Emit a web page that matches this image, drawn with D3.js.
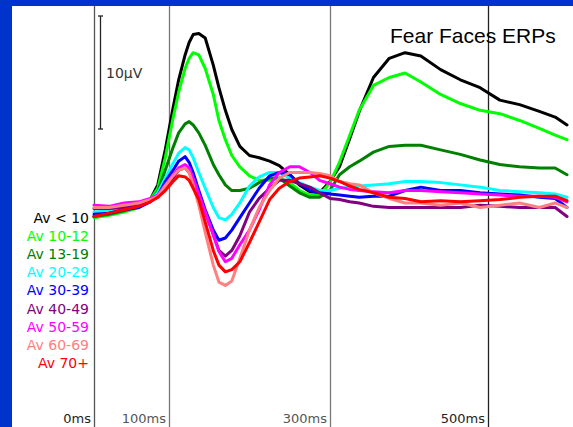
<!DOCTYPE html>
<html>
<head>
<meta charset="utf-8">
<script src="https://cdn.jsdelivr.net/npm/d3@7"></script>
<style>
  html, body { margin: 0; padding: 0; background: #fff; }
  svg { display: block; }
</style>
</head>
<body>
<script>
// Fear faces ERPs, amplitude in microvolts by age group

var times = [0, 20, 40, 60, 75, 85, 95, 105, 112, 120, 125, 130, 137, 145, 155, 162, 170, 178, 188, 200,
  212, 225, 237, 250, 262, 275, 287, 300, 312, 325, 337, 355, 375, 395, 415, 440, 465, 490, 515, 540, 565, 585, 600];

var groups = ["Av < 10", "Av 10-12", "Av 13-19", "Av 20-29", "Av 30-39", "Av 40-49", "Av 50-59", "Av 60-69", "Av 70+"];
var colors = ["#000000", "#00ff00", "#008000", "#00ffff", "#0000ff", "#800080", "#ff00ff", "#ff8080", "#ff0000"];

var avUnder10 = [-0.4, -0.2, 0.4, 0.7, 1.1, 2.4, 5.5, 9.2, 11.7, 13.9, 15.0, 15.7, 15.8, 15.4, 13.0, 11.0, 9.0, 7.3, 5.8, 5.0,
  4.8, 4.5, 4.1, 3.3, 2.4, 1.8, 1.7, 2.7, 4.0, 6.5, 8.9, 11.9, 13.6, 14.1, 13.8, 12.6, 11.7, 11.0, 9.9, 9.5, 8.9, 8.4, 7.7];
var av10to12 = [-0.5, -0.3, 0, 0.4, 1.1, 2.1, 4.8, 8.3, 10.6, 12.7, 13.6, 14.1, 13.9, 12.7, 10.4, 8.1, 6.4, 5.0, 4.0, 3.2,
  2.8, 2.8, 3.0, 2.6, 1.9, 1.5, 1.5, 2.6, 4.4, 6.8, 9.0, 11.2, 11.9, 12.3, 11.5, 10.4, 9.6, 9.0, 8.7, 8.1, 7.4, 6.8, 6.4];
var av13to19 = [-0.4, -0.2, 0.1, 0.5, 1.1, 1.8, 3.7, 5.7, 7.0, 7.8, 8.0, 7.7, 7.0, 5.9, 4.2, 3.3, 2.4, 1.9, 1.9, 2.1,
  2.6, 3.0, 3.0, 2.3, 1.7, 1.3, 1.3, 1.9, 3.3, 4.0, 4.5, 5.3, 5.8, 5.9, 5.9, 5.5, 5.1, 4.6, 4.2, 4.0, 3.9, 3.9, 3.3];
var av20to29 = [0, 0.1, 0.4, 0.6, 1.1, 1.7, 3.0, 4.3, 5.2, 5.7, 5.5, 4.8, 3.5, 2.1, 0.4, -0.5, -0.7, -0.2, 0.8, 2.3,
  3.1, 3.5, 3.5, 3.0, 2.6, 2.2, 1.9, 1.9, 2.1, 2.2, 2.3, 2.4, 2.5, 2.7, 2.7, 2.6, 2.4, 2.2, 1.9, 1.8, 1.7, 1.6, 1.3];
var av30to39 = [-0.2, -0.1, 0.2, 0.4, 0.9, 1.4, 2.7, 3.7, 4.5, 4.9, 4.4, 3.5, 1.9, 0.2, -1.6, -2.5, -2.3, -1.6, -0.5, 0.8,
  2.1, 3.2, 3.5, 3.3, 2.5, 1.9, 1.7, 1.6, 1.5, 1.4, 1.3, 1.4, 1.4, 1.9, 2.2, 1.9, 1.9, 1.7, 1.6, 1.5, 1.3, 1.2, 0.4];
var av40to49 = [0.3, 0.3, 0.4, 0.7, 1.0, 1.3, 2.1, 3.0, 3.7, 3.9, 3.5, 2.7, 1.4, 0, -2.0, -3.4, -3.9, -3.4, -2.1, 0,
  1.2, 2.1, 2.8, 2.8, 2.5, 2.2, 1.7, 1.2, 1.1, 0.9, 0.8, 0.5, 0.4, 0.4, 0.4, 0.4, 0.4, 0.6, 0.5, 0.4, 0.4, 0.4, -0.4];
var av50to59 = [0.6, 0.5, 0.8, 0.9, 1.2, 1.5, 2.4, 3.3, 3.9, 4.2, 3.9, 3.0, 1.6, 0, -2.0, -3.5, -4.4, -4.1, -2.9, -1.6,
  0.2, 2.4, 3.5, 4.0, 4.0, 3.5, 2.8, 2.5, 2.2, 2.0, 1.9, 1.8, 1.7, 1.9, 1.9, 1.8, 1.7, 1.6, 1.5, 1.4, 1.4, 1.3, 0.9];
var av60to69 = [0.4, 0.4, 0.6, 0.8, 1.1, 1.4, 2.3, 3.2, 3.7, 3.9, 3.5, 2.4, 0.6, -1.8, -4.7, -6.2, -6.5, -6.1, -4.1, -1.6,
  0.4, 1.9, 3.0, 3.5, 3.5, 3.5, 3.4, 3.2, 2.7, 2.5, 2.4, 1.7, 1.2, 0.8, 0.8, 0.6, 0.8, 0.4, 0.6, 0.8, 0.4, 0.8, 0.4];
var av70plus = [-0.4, -0.1, 0.2, 0.5, 0.9, 1.3, 1.9, 2.7, 3.2, 3.1, 2.8, 2.1, 1.1, -0.9, -3.4, -4.7, -5.3, -5.1, -4.4, -2.7,
  -0.9, 1.1, 2.1, 2.7, 3.0, 3.1, 3.2, 3.0, 2.7, 2.3, 2.0, 1.7, 1.3, 1.2, 0.9, 1.0, 0.9, 1.0, 1.1, 1.3, 1.4, 1.4, 1.0];

var series = [avUnder10, av10to12, av13to19, av20to29, av30to39, av40to49, av50to59, av60to69, av70plus];

var timeTicks = [0, 100, 300, 500];
var tickLabels = ["0ms", "100ms", "300ms", "500ms"];

var width = 573, height = 427;

var svg = d3.select(document.body).append("svg")
    .attr("width", width)
    .attr("height", height);

// blue frame
svg.append("rect").attr("width", width).attr("height", height).attr("fill", "#0033cc");
svg.append("rect").attr("x", 12).attr("y", 6).attr("width", width - 12).attr("height", height - 6).attr("fill", "#fff");

// time axis is not uniform in the original, so a polylinear scale
var x = d3.scaleLinear()
    .domain([0, 100, 300, 500, 600])
    .range([94, 169, 330, 488, 567]);

var y = d3.scaleLinear()
    .domain([0, 10])
    .range([212, 99]);

// vertical time markers
var gridColors = ["#555", "#777", "#777", "#222"];
svg.append("g")
    .selectAll("line")
    .data(timeTicks)
    .join("line")
    .attr("x1", (d) => Math.round(x(d)) + 0.5)
    .attr("x2", (d) => Math.round(x(d)) + 0.5)
    .attr("y1", 6)
    .attr("y2", height)
    .attr("stroke", (d, i) => gridColors[i])
    .attr("stroke-width", 1.3);

svg.append("g")
    .attr("font-family", "DejaVu Sans, sans-serif")
    .attr("font-size", 13)
    .attr("text-anchor", "end")
    .selectAll("text")
    .data(timeTicks)
    .join("text")
    .attr("x", (d) => Math.round(x(d)) - 3)
    .attr("y", 423)
    .attr("fill", (d, i) => (i == 0 || i == 3) ? "#222" : "#555")
    .text((d, i) => tickLabels[i]);

// 10 uV scale bar
var bar = svg.append("g").attr("stroke", "#222").attr("stroke-width", 1.3);
bar.append("line").attr("x1", 100.5).attr("x2", 100.5).attr("y1", y(10) - 83).attr("y2", y(10) + 30);
bar.append("line").attr("x1", 98).attr("x2", 103).attr("y1", y(10) - 83).attr("y2", y(10) - 83);
bar.append("line").attr("x1", 98).attr("x2", 103).attr("y1", y(10) + 30).attr("y2", y(10) + 30);
svg.append("text")
    .attr("x", 106)
    .attr("y", 78)
    .attr("font-family", "DejaVu Sans, sans-serif")
    .attr("font-size", 14)
    .attr("fill", "#333")
    .text("10\u00b5V");

// ERP curves
var line = d3.line()
    .x((d, i) => x(times[i]))
    .y((d) => y(d));

svg.append("g")
    .attr("fill", "none")
    .attr("stroke-width", 3)
    .attr("stroke-linejoin", "round")
    .attr("stroke-linecap", "round")
    .selectAll("path")
    .data(series)
    .join("path")
    .attr("stroke", (d, i) => colors[i])
    .attr("d", line);

// legend
svg.append("g")
    .attr("font-family", "DejaVu Sans, sans-serif")
    .attr("font-size", 14)
    .attr("text-anchor", "end")
    .selectAll("text")
    .data(groups)
    .join("text")
    .attr("x", 89)
    .attr("y", (d, i) => 223 + i * 18.1)
    .attr("fill", (d, i) => colors[i])
    .text((d) => d);

svg.append("text")
    .attr("x", 390)
    .attr("y", 43)
    .attr("font-family", "Liberation Sans, Arial, sans-serif")
    .attr("font-size", 21)
    .attr("fill", "#000")
    .text("Fear Faces ERPs");
</script>
</body>
</html>
